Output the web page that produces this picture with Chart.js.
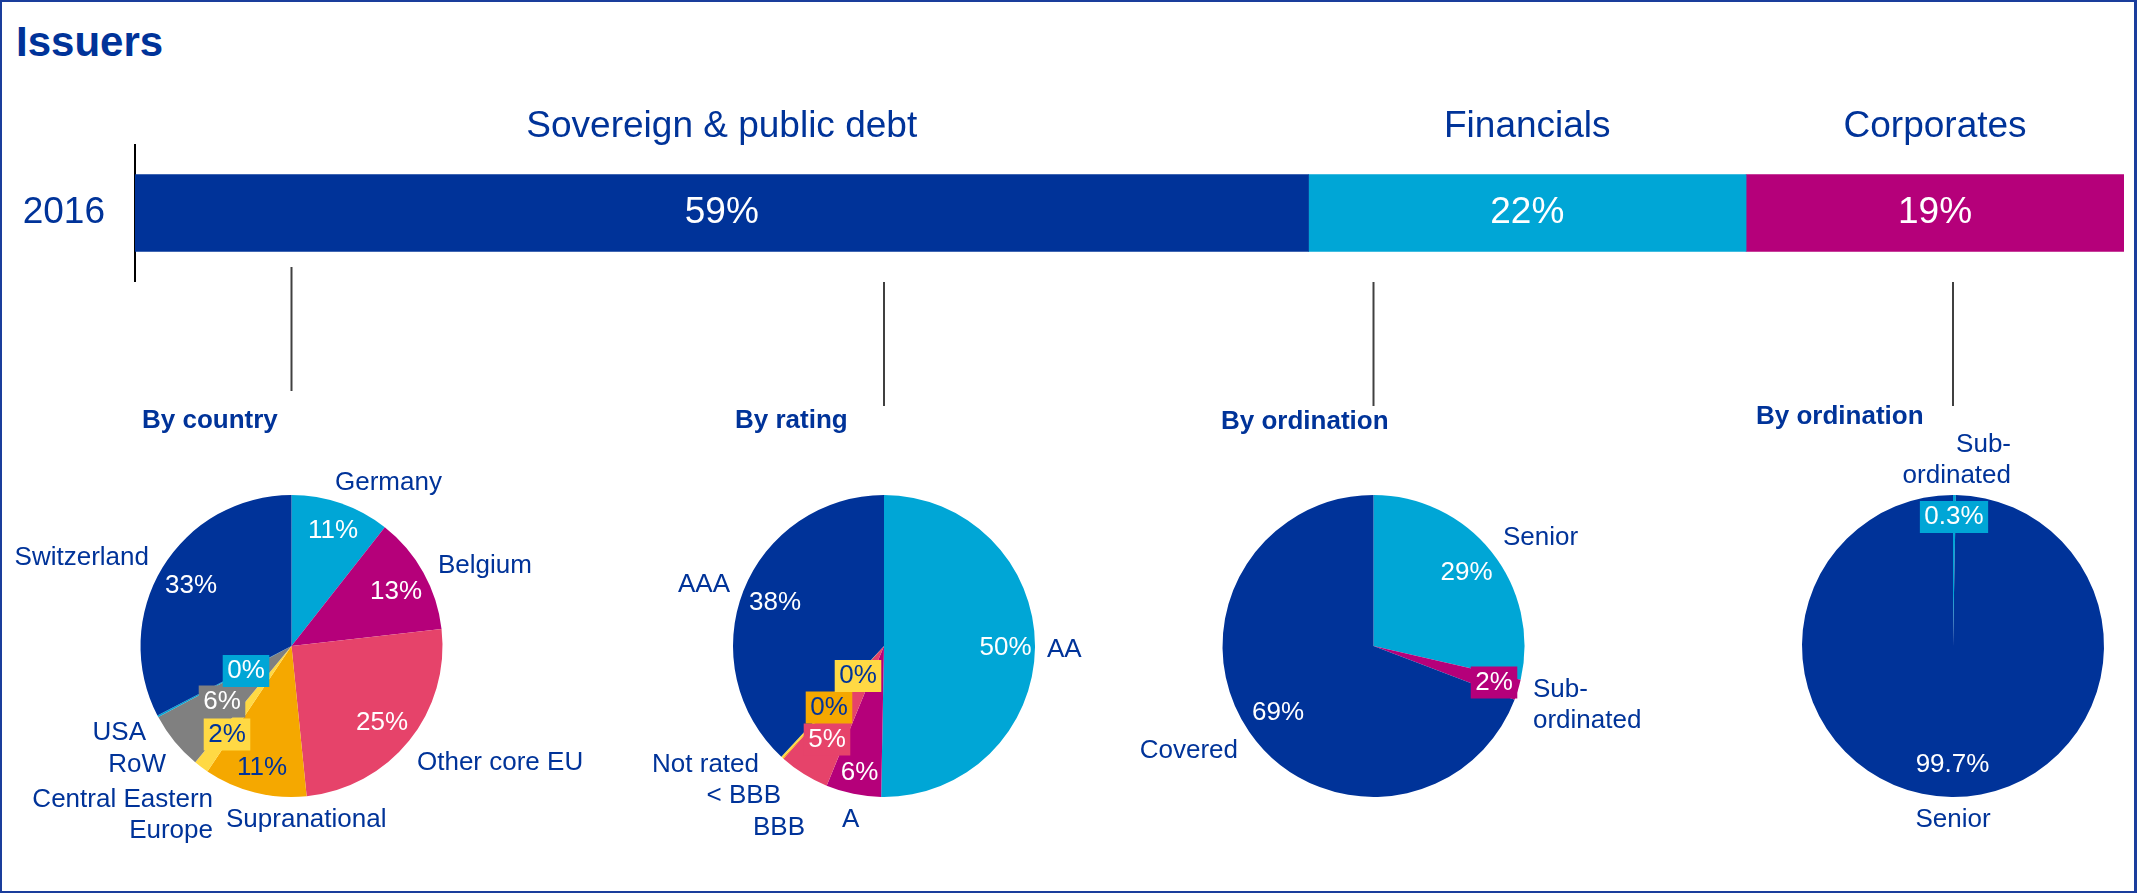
<!DOCTYPE html>
<html>
<head>
<meta charset="utf-8">
<title>Issuers</title>
<script src="https://cdn.jsdelivr.net/npm/chart.js@4.4.1/dist/chart.umd.min.js"></script>
<style>
  html, body { margin: 0; padding: 0; background: #fff; }
  #frame { position: absolute; left: 0; top: 0; width: 2137px; height: 893px; box-sizing: border-box;
           border: 2px solid #1a3d9c; border-right-width: 3px; }
  #title { position: absolute; left: 16px; top: 18px; line-height: 42px; margin: 0;
           font: bold 42px "Liberation Sans", Arial, sans-serif; color: #003399; }
  canvas { position: absolute; display: block; }
</style>
</head>
<body>
<div id="frame"></div>
<h1 id="title">Issuers</h1>
<canvas id="issuer_bar" width="2140" height="300" style="left:0;top:0"></canvas>
<canvas id="pie_country" width="590" height="638" style="left:0;top:255px"></canvas>
<canvas id="pie_rating" width="540" height="638" style="left:590px;top:255px"></canvas>
<canvas id="pie_financials" width="540" height="638" style="left:1130px;top:255px"></canvas>
<canvas id="pie_corporates" width="466" height="638" style="left:1670px;top:255px"></canvas>

<script>
// ---------- Data ----------
var years = ['2016'];
var issuerSegments = ['Sovereign & public debt', 'Financials', 'Corporates'];
var issuerShares = [59, 22, 19];

var countryLabels = ['Germany', 'Belgium', 'Other core EU', 'Supranational', 'Central Eastern\nEurope', 'RoW', 'USA', 'Switzerland'];
var countryShares = [10.6, 12.6, 25.2, 11.0, 1.6, 6.2, 0.2, 32.6];

var ratingLabels = ['AA', 'A', 'BBB', '< BBB', 'Not rated', 'AAA'];
var ratingShares = [50.3, 5.9, 5.4, 0.1, 0.2, 38.1];

var financialLabels = ['Senior', 'Sub-\nordinated', 'Covered'];
var financialShares = [28.6, 2.2, 69.2];

var corporateLabels = ['Sub-\nordinated', 'Senior'];
var corporateShares = [0.3, 99.7];

// ---------- Styles ----------
var FONT = '"Liberation Sans", Arial, sans-serif';
var NAVY = '#003399';
var CYAN = '#00a6d6';
var MAGENTA = '#b5007a';
var CORAL = '#e6436a';
var ORANGE = '#f5a800';
var YELLOW = '#ffd944';
var GREY = '#808080';
var DARK_TEXT_ON = [ORANGE, YELLOW];

Chart.defaults.font.family = FONT;
Chart.defaults.animation = false;

// ---------- Stacked bar ----------
var barColors = [NAVY, CYAN, MAGENTA];

var barLabelsPlugin = {
	id: 'barLabels',
	afterDatasetsDraw: function (chart) {
		var ctx = chart.ctx;
		ctx.save();
		ctx.font = '37px ' + FONT;
		ctx.textAlign = 'center';
		chart.data.datasets.forEach(function (ds, i) {
			var bar = chart.getDatasetMeta(i).data[0];
			var mid = (bar.x + bar.base) / 2;
			ctx.fillStyle = '#fff';
			ctx.textBaseline = 'middle';
			ctx.fillText(ds.data[0] + '%', mid, bar.y);
			ctx.fillStyle = NAVY;
			ctx.textBaseline = 'alphabetic';
			ctx.fillText(ds.label, mid, bar.y - bar.height / 2 - 38);
		});
		ctx.restore();
	}
};

new Chart(document.getElementById('issuer_bar'), {
	type: 'bar',
	data: {
		labels: years,
		datasets: issuerSegments.map(function (name, i) {
			return { label: name, data: [issuerShares[i]], backgroundColor: barColors[i], barThickness: 77, borderWidth: 0 };
		})
	},
	options: {
		indexAxis: 'y',
		responsive: false,
		events: [],
		layout: { padding: { top: 145, bottom: 19, left: 0, right: 16 } },
		scales: {
			x: {
				stacked: true, min: 0, max: 100, display: false,
				ticks: { display: false }, grid: { display: false },
				afterFit: function (scale) { scale.height = 0; }
			},
			y: {
				stacked: true,
				grid: { display: false, drawTicks: false },
				border: { display: true, color: '#000', width: 2 },
				ticks: { color: NAVY, font: { size: 37 }, padding: 30 },
				afterFit: function (scale) {
					// big tick font + padding would otherwise shrink the plot vertically
					scale.width = 135;
					scale.paddingTop = 0;
					scale.paddingBottom = 0;
				}
			}
		},
		plugins: { legend: { display: false }, tooltip: { enabled: false } }
	},
	plugins: [barLabelsPlugin]
});

// ---------- Pies ----------
// Label placement relative to the pie centre (px). pct: [dx, dy, boxed], names: [dx, dy, align]
function makePieLabels(cfg) {
	return {
		id: 'pieLabels',
		afterDatasetsDraw: function (chart) {
			var ctx = chart.ctx;
			var arc = chart.getDatasetMeta(0).data[0];
			var cx = arc.x, cy = arc.y;
			var ds = chart.data.datasets[0];
			ctx.save();

			// connector from the bar
			ctx.strokeStyle = '#404040';
			ctx.lineWidth = 2;
			ctx.beginPath();
			ctx.moveTo(cx, cy + cfg.connector[0]);
			ctx.lineTo(cx, cy + cfg.connector[1]);
			ctx.stroke();

			// sub title
			ctx.font = 'bold 26px ' + FONT;
			ctx.fillStyle = NAVY;
			ctx.textAlign = 'left';
			ctx.textBaseline = 'alphabetic';
			ctx.fillText(cfg.title, cx + cfg.titlePos[0], cy + cfg.titlePos[1]);

			// percentages
			ctx.font = '26px ' + FONT;
			ds.data.forEach(function (v, i) {
				var p = cfg.pct[i];
				var txt = v.toFixed(cfg.decimals) + '%';
				var x = cx + p[0], y = cy + p[1];
				var bg = ds.backgroundColor[i];
				if (p[2]) {
					var w = ctx.measureText(txt).width + 9;
					ctx.fillStyle = bg;
					ctx.fillRect(x - w / 2, y - 16, w, 32);
				}
				ctx.fillStyle = DARK_TEXT_ON.indexOf(bg) >= 0 ? NAVY : '#fff';
				ctx.textAlign = 'center';
				ctx.textBaseline = 'middle';
				ctx.fillText(txt, x, y);
			});

			// category names
			ctx.fillStyle = NAVY;
			ctx.textBaseline = 'alphabetic';
			chart.data.labels.forEach(function (name, i) {
				var p = cfg.names[i];
				ctx.textAlign = p[2];
				name.split('\n').forEach(function (line, k) {
					ctx.fillText(line, cx + p[0], cy + p[1] + k * 31);
				});
			});
			ctx.restore();
		}
	};
}

function drawPie(id, labels, values, colors, centerX, cfg) {
	var canvas = document.getElementById(id);
	var R = 151;
	var centerY = 391;
	new Chart(canvas, {
		type: 'pie',
		data: {
			labels: labels,
			datasets: [{ data: values, backgroundColor: colors, borderWidth: 0, hoverOffset: 0 }]
		},
		options: {
			responsive: false,
			events: [],
			radius: R,
			layout: {
				padding: {
					left: centerX - R,
					right: canvas.width - centerX - R,
					top: centerY - R,
					bottom: canvas.height - centerY - R
				}
			},
			plugins: { legend: { display: false }, tooltip: { enabled: false } }
		},
		plugins: [makePieLabels(cfg)]
	});
}

drawPie('pie_country', countryLabels, countryShares,
	[CYAN, MAGENTA, CORAL, ORANGE, YELLOW, GREY, CYAN, NAVY], 291.5, {
		title: 'By country', titlePos: [-149.5, -218], connector: [-379, -255], decimals: 0,
		pct: [[41.5, -115], [104.5, -54], [90.5, 77], [-29.5, 122], [-64.5, 88.5, true], [-69.5, 55.5, true], [-45.5, 25, true], [-100.5, -60]],
		names: [[43.5, -156, 'left'], [146.5, -73, 'left'], [125.5, 124, 'left'], [-65.5, 181, 'left'],
			[-78.5, 161, 'right'], [-125.5, 126, 'right'], [-145.5, 94, 'right'], [-142.5, -81, 'right']]
	});

drawPie('pie_rating', ratingLabels, ratingShares,
	[CYAN, MAGENTA, CORAL, ORANGE, YELLOW, NAVY], 294, {
		title: 'By rating', titlePos: [-149, -218], connector: [-364, -240], decimals: 0,
		pct: [[121.5, 2], [-24.5, 127], [-57, 93.5, true], [-55, 61.5, true], [-26, 30, true], [-109, -43]],
		names: [[163, 11, 'left'], [-42, 181, 'left'], [-79, 189, 'right'], [-103, 157, 'right'],
			[-125, 126, 'right'], [-154, -54, 'right']]
	});

drawPie('pie_financials', financialLabels, financialShares,
	[CYAN, MAGENTA, NAVY], 243.5, {
		title: 'By ordination', titlePos: [-152.5, -217], connector: [-364, -240], decimals: 0,
		pct: [[93, -73], [120.5, 36.5, true], [-95.5, 67]],
		names: [[129.5, -101, 'left'], [159.5, 51, 'left'], [-135.5, 112, 'right']]
	});

drawPie('pie_corporates', corporateLabels, corporateShares,
	[CYAN, NAVY], 283, {
		title: 'By ordination', titlePos: [-197, -222], connector: [-364, -240], decimals: 1,
		pct: [[1, -129, true], [-0.5, 119]],
		names: [[58, -194, 'right'], [0, 181, 'center']]
	});
</script>
</body>
</html>
